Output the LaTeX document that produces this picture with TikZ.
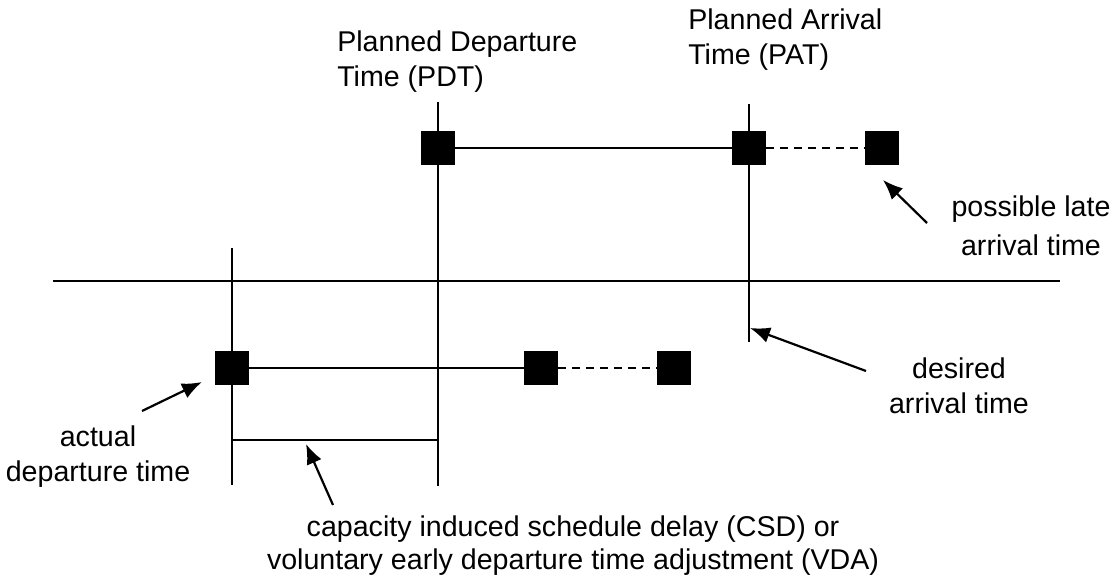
\documentclass[tikz,border=0pt]{standalone}
\usepackage{fontspec}
\setmainfont{Liberation Sans}
\usetikzlibrary{arrows.meta}

\begin{document}
\begin{tikzpicture}[
  x=0.5pt, y=-0.5pt,
  line width=1.3pt,
  box/.style={
    draw,
    fill=black,
    rectangle,
    minimum size=15.5pt,
    inner sep=0pt,
  },
  lbl/.style={
    inner sep=0pt,
    font=\fontsize{14.3}{17.5}\selectfont,
  },
  pointer/.style={
    draw,
    line width=1.1pt,
    -{Latex[length=10pt,width=8pt]},
  },
  late/.style={
    dashed,
    dash pattern=on 4pt off 3pt,
  },
]
\useasboundingbox (0,0) rectangle (1113,581);

% Time axis and marker lines
\coordinate (axl) at (53,281);
\coordinate (axr) at (1060,281);
\coordinate (adttop) at (232,248);
\coordinate (adtbot) at (232,485);
\coordinate (pdttop) at (438,102);
\coordinate (pdtbot) at (438,486);
\coordinate (pattop) at (749,104);
\coordinate (patbot) at (749,342);
\coordinate (csdl) at (232,440);
\coordinate (csdr) at (438,440);

\draw (axl) -- (axr);
\draw (adttop) -- (adtbot);
\draw (pdttop) -- (pdtbot);
\draw (pattop) -- (patbot);
\draw (csdl) -- (csdr);

% Planned trip
\node[box] (pdt) at (438,148) {};
\node[box] (pat) at (749,148) {};
\node[box] (plate) at (882,148) {};
\draw (pdt) -- (pat);
\draw[late] (pat) -- (plate);

% Actual trip
\node[box] (adt) at (232,368) {};
\node[box] (aat) at (541,368) {};
\node[box] (alate) at (674,368) {};
\draw (adt) -- (aat);
\draw[late] (aat) -- (alate);

% Labels
\node[lbl, anchor=north west, align=left] (pdtlbl) at (336,29)
  {Planned Departure\\Time (PDT)};
\node[lbl, anchor=north west, align=left] (patlbl) at (687,7)
  {Planned Arrival\\Time (PAT)};
\node[lbl, anchor=north, align=center] (latelbl) at (1031,194)
  {possible late\\[2pt]arrival time};
\node[lbl, anchor=north, align=center] (deslbl) at (959,356)
  {desired\\arrival time};
\node[lbl, anchor=north, align=center] (adtlbl) at (98,424)
  {actual\\departure time};
\node[lbl, anchor=north, align=center] (csdlbl) at (573,514)
  {capacity induced schedule delay (CSD) or\\[-1pt]voluntary early departure time adjustment (VDA)};

% Pointers
\coordinate (latefrom) at (927,223);
\coordinate (lateto) at (883,180);
\coordinate (desfrom) at (866,371);
\coordinate (desto) at (750,328);
\coordinate (adtfrom) at (142,411);
\coordinate (adtto) at (202,382);
\coordinate (csdfrom) at (333,505);
\coordinate (csdto) at (306,444);

\draw[pointer] (latefrom) -- (lateto);
\draw[pointer] (desfrom) -- (desto);
\draw[pointer] (adtfrom) -- (adtto);
\draw[pointer] (csdfrom) -- (csdto);

\end{tikzpicture}
\end{document}
